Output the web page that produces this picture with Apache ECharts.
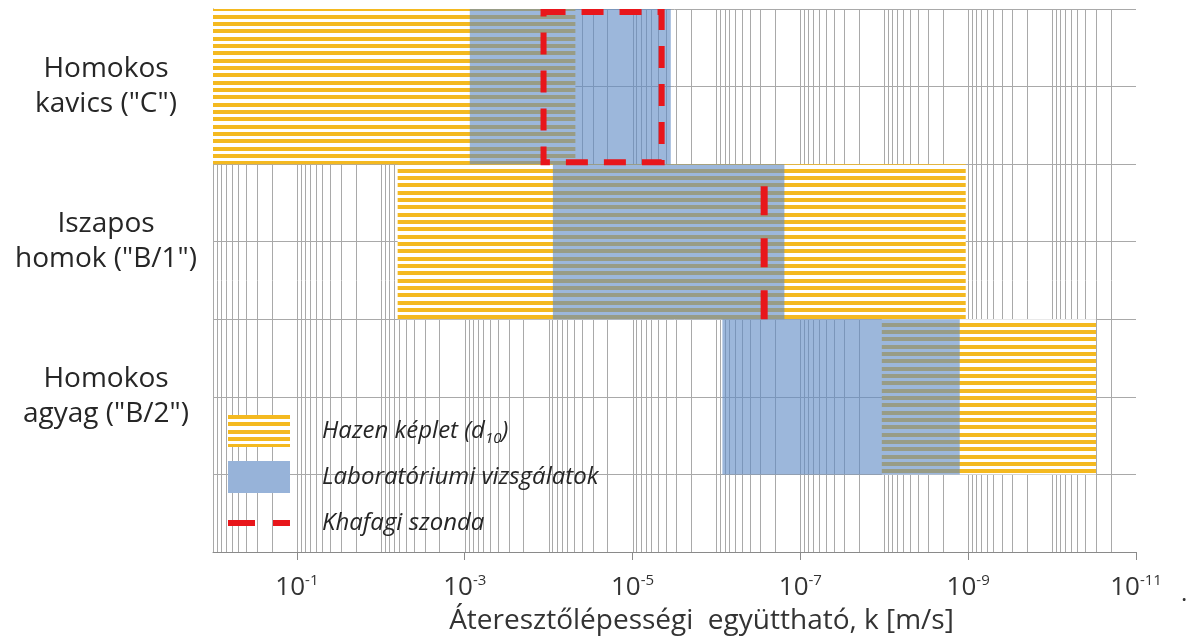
<!DOCTYPE html>
<html><head><meta charset="utf-8">
<script src="https://cdn.jsdelivr.net/npm/echarts@6/dist/echarts.min.js"></script>
<style>html,body{margin:0;padding:0;background:#fff}#c{width:1193px;height:644px}</style>
</head><body><div id="c"></div>
<script>
// ---- data (k values in m/s; "Max" = left/more permeable end, "Min" = right end)
const categories = ['Homokos\nkavics ("C")', 'Iszapos\nhomok ("B/1")', 'Homokos\nagyag ("B/2")'];
const hazenKMax = [1, 6.3e-3, 1.07e-8];
const hazenKMin = [4.8e-5, 1.07e-9, 3.0e-11];
const labKMax = [8.7e-4, 8.9e-5, 8.5e-7];
const labKMin = [3.5e-6, 1.55e-7, 1.26e-9];
const khafagiRows = [0, 1];
const khafagiKMax = [1.15e-4, 2.7e-7];
const khafagiKMin = [4.5e-6, 2.7e-7];
const tickLabelValues = [1e-1, 1e-3, 1e-5, 1e-7, 1e-9, 1e-11];
const gridDecades = [-1, -2, -3, -4, -5, -6, -7, -8, -9, -10, -11];
const gridMultipliers = [1, 2, 3, 4, 5, 6, 7, 8, 9];
const seriesNames = ['Hazen képlet (d10)', 'Laboratóriumi vizsgálatok', 'Khafagi szonda'];

// ---- styles
const FONT = 'Open Sans';
const GRID_COLOR = '#a9a9a9';
const AXIS_COLOR = '#8a8a8a';
const YELLOW = '#f4b920';
const LAB_FILL = 'rgba(95,138,197,0.62)';
const RED = '#e8161b';

const stripe = document.createElement('canvas');
stripe.width = 8; stripe.height = 22;
(function () {
  const g = stripe.getContext('2d');
  g.fillStyle = '#ffffff'; g.fillRect(0, 0, 8, 22);
  g.fillStyle = YELLOW;
  g.fillRect(0, 0, 8, 4); g.fillRect(0, 7, 8, 4); g.fillRect(0, 15, 8, 4);
})();
const stripePattern = { image: stripe, repeat: 'repeat' };

// grid values (axis structure: m * 10^e inside every decade, plus the 10^0 edge)
const gridValues = [[1, 0]];
gridDecades.forEach(e => gridMultipliers.forEach(m => gridValues.push([m * Math.pow(10, e), 0])));

const rowTop = r => 7 - 2 * r;

function bandRender(fill) {
  return function (params, api) {
    const r = api.value(2);
    const p1 = api.coord([api.value(0), rowTop(r)]);
    const p2 = api.coord([api.value(1), rowTop(r) - 2]);
    return {
      type: 'rect',
      shape: { x: Math.min(p1[0], p2[0]), y: p1[1], width: Math.abs(p2[0] - p1[0]), height: p2[1] - p1[1] },
      style: { fill: fill }
    };
  };
}

const chart = echarts.init(document.getElementById('c'), null, { renderer: 'canvas' });
chart.setOption({
  animation: false,
  grid: { left: 213, right: 57, top: 9, bottom: 92 },
  xAxis: {
    type: 'log', logBase: 10, min: 1e-11, max: 1, inverse: true,
    axisLine: { show: true, onZero: false, lineStyle: { color: AXIS_COLOR, width: 1 } },
    axisTick: { show: true, customValues: tickLabelValues, length: 8, lineStyle: { color: AXIS_COLOR } },
    splitLine: { show: false },
    axisLabel: {
      customValues: tickLabelValues, margin: 21,
      formatter: v => '{b|10}{s|' + Math.round(Math.log10(v)) + '}',
      rich: {
        b: { fontFamily: FONT, fontSize: 26, lineHeight: 30, color: '#333' },
        s: { fontFamily: FONT, fontSize: 15, lineHeight: 30, verticalAlign: 'top', color: '#333', padding: [0, 0, 14, 0] }
      }
    },
    name: 'Áteresztőlépességi  együttható, k [m/s]',
    nameLocation: 'middle', nameGap: 55,
    nameTextStyle: { fontFamily: FONT, fontSize: 28, color: '#333', padding: [0, 0, 0, 54] }
  },
  yAxis: {
    type: 'value', min: 0, max: 7, interval: 1,
    axisLine: { show: true, lineStyle: { color: AXIS_COLOR } },
    axisTick: { show: false },
    splitLine: { show: true, lineStyle: { color: GRID_COLOR, width: 1 } },
    axisLabel: {
      customValues: [6, 4, 2],
      formatter: v => categories[(6 - v) / 2],
      fontFamily: FONT, fontSize: 28, lineHeight: 35, color: '#262626',
      align: 'center', margin: 107
    }
  },
  legend: {
    orient: 'vertical', left: 228, top: 415, padding: 0, itemWidth: 62, itemHeight: 32, itemGap: 14,
    selectedMode: false,
    formatter: name => name === seriesNames[0] ? '{t|Hazen képlet (d}{sub|10}{t|)}' : '{t|' + name + '}',
    textStyle: {
      padding: [0, 0, 0, 27],
      rich: {
        t: { fontFamily: FONT, fontStyle: 'italic', fontSize: 24, lineHeight: 30, color: '#262626' },
        sub: { fontFamily: FONT, fontStyle: 'italic', fontSize: 15, lineHeight: 18, verticalAlign: 'bottom', color: '#262626' }
      }
    },
    data: [
      { name: seriesNames[0], icon: 'rect' },
      { name: seriesNames[1], icon: 'rect', itemStyle: { color: '#97b3d9' } },
      { name: seriesNames[2], icon: 'path://M0,0h0.01v0.01h-0.01zM62,32h0.01v0.01h-0.01zM0,13h27v6h-27zM45,13h17v6h-17z', itemStyle: { color: RED } }
    ]
  },
  graphic: [{ type: 'text', left: 1181, top: 582, style: { text: '.', fontFamily: FONT, fontSize: 24, fill: '#333' } }],
  series: [
    {
      name: 'grid', type: 'custom', silent: true, clip: true,
      data: gridValues, encode: { x: 0, y: 1 },
      renderItem: function (params, api) {
        const x = Math.round(api.coord([api.value(0), 0])[0]) + 0.5;
        const cs = params.coordSys;
        return { type: 'line', shape: { x1: x, y1: cs.y, x2: x, y2: cs.y + cs.height }, style: { stroke: GRID_COLOR, lineWidth: 1 } };
      }
    },
    {
      name: seriesNames[0], type: 'custom', clip: true,
      itemStyle: { color: stripePattern },
      data: hazenKMax.map((v, i) => [v, hazenKMin[i], i]), encode: { x: [0, 1] },
      renderItem: bandRender(stripePattern)
    },
    {
      name: seriesNames[1], type: 'custom', clip: true,
      itemStyle: { color: LAB_FILL },
      data: labKMax.map((v, i) => [v, labKMin[i], i]), encode: { x: [0, 1] },
      renderItem: bandRender(LAB_FILL)
    },
    {
      name: seriesNames[2], type: 'custom', clip: true,
      itemStyle: { color: RED },
      data: khafagiKMax.map((v, i) => [v, khafagiKMin[i], khafagiRows[i]]), encode: { x: [0, 1] },
      renderItem: function (params, api) {
        const r = api.value(2);
        const p1 = api.coord([api.value(0), rowTop(r)]);
        const p2 = api.coord([api.value(1), rowTop(r) - 2]);
        if (api.value(0) === api.value(1)) {
          return { type: 'line', shape: { x1: p1[0], y1: p2[1], x2: p1[0], y2: p1[1] },
            style: { stroke: RED, lineWidth: 7, lineDash: [29, 23] } };
        }
        return { type: 'rect',
          shape: { x: p1[0], y: p1[1] + 3, width: p2[0] - p1[0], height: p2[1] - p1[1] - 5 },
          style: { fill: null, stroke: RED, lineWidth: 6, lineDash: [22, 16] } };
      }
    }
  ]
});
</script></body></html>
